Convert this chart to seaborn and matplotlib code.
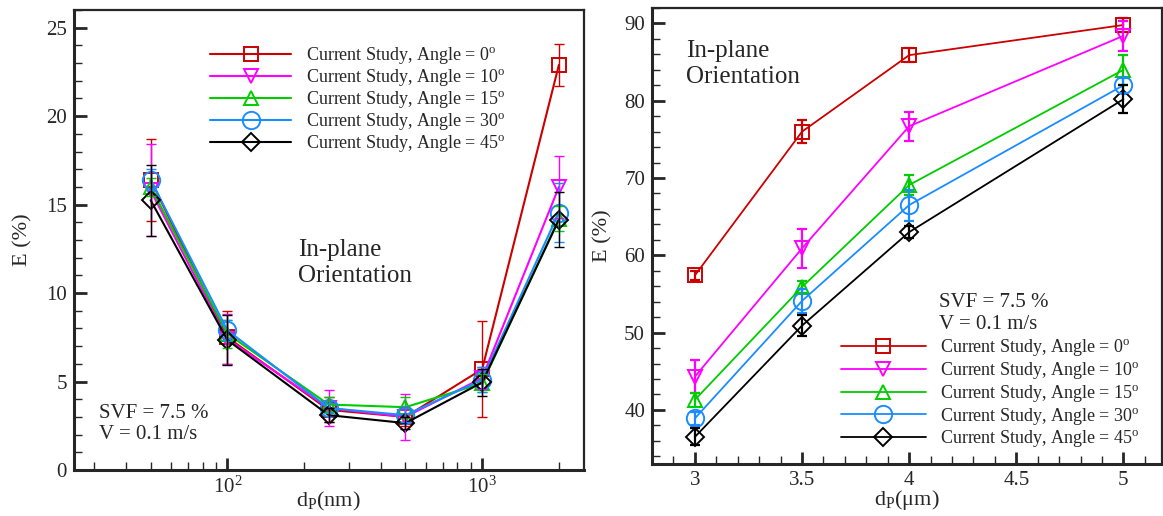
import numpy as np
import pandas as pd
import matplotlib
matplotlib.use("Agg")
import matplotlib.pyplot as plt
from matplotlib.ticker import MultipleLocator, LogLocator, NullFormatter
import seaborn as sns

# ---- data: particle diameter in nm (left) ----
dp_nm = [50, 100, 250, 500, 1000, 2000]
E0_nm = [16.4, 7.5, 3.4, 3.0, 5.7, 22.9]
E10_nm = [15.8, 7.4, 3.5, 3.0, 5.2, 16.0]
E15_nm = [16.0, 7.7, 3.7, 3.55, 4.9, 14.2]
E30_nm = [16.4, 7.9, 3.5, 3.1, 5.1, 14.55]
E45_nm = [15.25, 7.35, 3.1, 2.65, 4.95, 14.15]
err0_nm = [2.3, 1.5, 0.7, 0.5, 2.7, 1.2]
err10_nm = [2.6, 1.4, 1.0, 1.3, 0.6, 1.75]
err15_nm = [0.5, 0.8, 0.4, 0.6, 0.5, 0.7]
err30_nm = [0.6, 0.6, 0.3, 0.4, 0.7, 1.65]
err45_nm = [2.0, 1.4, 0.4, 0.35, 0.75, 1.55]

# ---- data: particle diameter in micrometres (right) ----
dp_um = [3, 3.5, 4, 5]
E0_um = [57.4, 76.0, 85.9, 89.8]
E10_um = [44.3, 60.9, 76.7, 88.4]
E15_um = [41.3, 55.9, 69.1, 84.0]
E30_um = [38.9, 54.1, 66.5, 82.0]
E45_um = [36.5, 50.9, 63.0, 80.2]
err0_um = [0.6, 1.5, 0.9, 0.9]
err10_um = [2.1, 2.5, 1.85, 1.9]
err15_um = [0.9, 0.8, 1.3, 1.9]
err30_um = [0.8, 1.5, 2.0, 1.0]
err45_um = [1.1, 1.4, 0.8, 1.8]

angles = [0, 10, 15, 30, 45]
colors = ["#CC0000", "#FF00FF", "#00CC00", "#1A8CFF", "#000000"]
markers = ["s", "v", "^", "o", "D"]
msizes = [9.5, 9.5, 9.5, 12.5, 9]

sns.set_theme(style="ticks")
plt.rcParams["font.family"] = ["Liberation Serif", "DejaVu Serif"]
plt.rcParams["mathtext.fontset"] = "custom"
plt.rcParams["mathtext.rm"] = "Liberation Serif"
plt.rcParams["mathtext.it"] = "Liberation Serif:italic"

fig = plt.figure(figsize=(11.63, 5.16), dpi=100)
axL = fig.add_axes([73.9 / 1163, 46 / 516, 509.7 / 1163, 460 / 516])
axR = fig.add_axes([652 / 1163, 52 / 516, 510 / 1163, 456 / 516])


def draw(ax, x, ys, errs, lw, elw):
    for ang, y, e, c, m, ms in zip(angles, ys, errs, colors, markers, msizes):
        df = pd.DataFrame({"dp": x, "E": y})
        sns.lineplot(data=df, x="dp", y="E", ax=ax, color=c, lw=lw,
                     marker=m, ms=ms, mec=c, mfc="none", mew=1.4,
                     label=f"Current Study, Angle = {ang}$^{{\\rm o}}$")
        ax.errorbar(x, y, yerr=e, fmt="none", ecolor=c, elinewidth=elw,
                    capsize=3.6, capthick=elw, zorder=3)


draw(axL, dp_nm, [E0_nm, E10_nm, E15_nm, E30_nm, E45_nm],
     [err0_nm, err10_nm, err15_nm, err30_nm, err45_nm], 1.5, 1.0)
draw(axR, dp_um, [E0_um, E10_um, E15_um, E30_um, E45_um],
     [err0_um, err10_um, err15_um, err30_um, err45_um], 1.3, 1.6)

axL.set_xscale("log")
axL.set_xlim(25, 2500)
axL.set_ylim(0, 26)
axL.yaxis.set_major_locator(MultipleLocator(5))
axL.yaxis.set_minor_locator(MultipleLocator(1))
axL.xaxis.set_major_locator(LogLocator(base=10, numticks=10))
axL.xaxis.set_minor_locator(LogLocator(base=10, subs=np.arange(2, 10), numticks=10))
axL.xaxis.set_minor_formatter(NullFormatter())

axR.set_xlim(2.8, 5.18)
axR.set_ylim(33, 92)
axR.xaxis.set_major_locator(MultipleLocator(0.5))
axR.xaxis.set_minor_locator(MultipleLocator(0.1))
axR.yaxis.set_major_locator(MultipleLocator(10))
axR.yaxis.set_minor_locator(MultipleLocator(2))
axR.set_xticks([3, 3.5, 4, 4.5, 5])
axR.set_xticklabels(["3", "3.5", "4", "4.5", "5"])

for ax, xl in [(axL, "d$_{\\rm P}$(nm)"), (axR, "d$_{\\rm P}$(\u03bcm)")]:
    for side in ["left", "bottom"]:
        ax.spines[side].set_linewidth(2.2)
    for side in ["top", "right"]:
        ax.spines[side].set_linewidth(1.6)
    ax.tick_params(which="major", direction="in", length=9, width=2,
                   labelsize=15, pad=5, top=False, right=False)
    ax.tick_params(which="minor", direction="in", length=5.5, width=1,
                   top=False, right=False)
    ax.set_xlabel(xl, fontsize=16, labelpad=0)
    ax.set_ylabel("E (%)", fontsize=16, labelpad=4)
    ax.grid(False)

axL.yaxis.set_label_coords(-0.082, 0.5)
axR.yaxis.set_label_coords(-0.078, 0.5)
axL.xaxis.set_label_coords(0.5, -0.043)
axR.xaxis.set_label_coords(0.5, -0.052)

legL = axL.legend(loc="center left", bbox_to_anchor=(0.267, 0.805), frameon=False,
                  fontsize=13, handlelength=4.5, handletextpad=0.8,
                  labelspacing=0.05, borderpad=0, borderaxespad=0)
legR = axR.legend(loc="center left", bbox_to_anchor=(0.370, 0.155), frameon=False,
                  fontsize=13, handlelength=4.7, handletextpad=0.8,
                  labelspacing=0.1, borderpad=0, borderaxespad=0)

axL.text(0.439, 0.45, "In-plane\nOrientation", transform=axL.transAxes,
         fontsize=18, va="center", ha="left", linespacing=1.2)
axR.text(0.067, 0.877, "In-plane\nOrientation", transform=axR.transAxes,
         fontsize=18, va="center", ha="left", linespacing=1.2)
axL.text(0.050, 0.10, "SVF = 7.5 %\nV = 0.1 m/s", transform=axL.transAxes,
         fontsize=15, va="center", ha="left", linespacing=1.2)
axR.text(0.562, 0.33, "SVF = 7.5 %\nV = 0.1 m/s", transform=axR.transAxes,
         fontsize=15, va="center", ha="left", linespacing=1.2)

fig.savefig("out.png", dpi=100)
